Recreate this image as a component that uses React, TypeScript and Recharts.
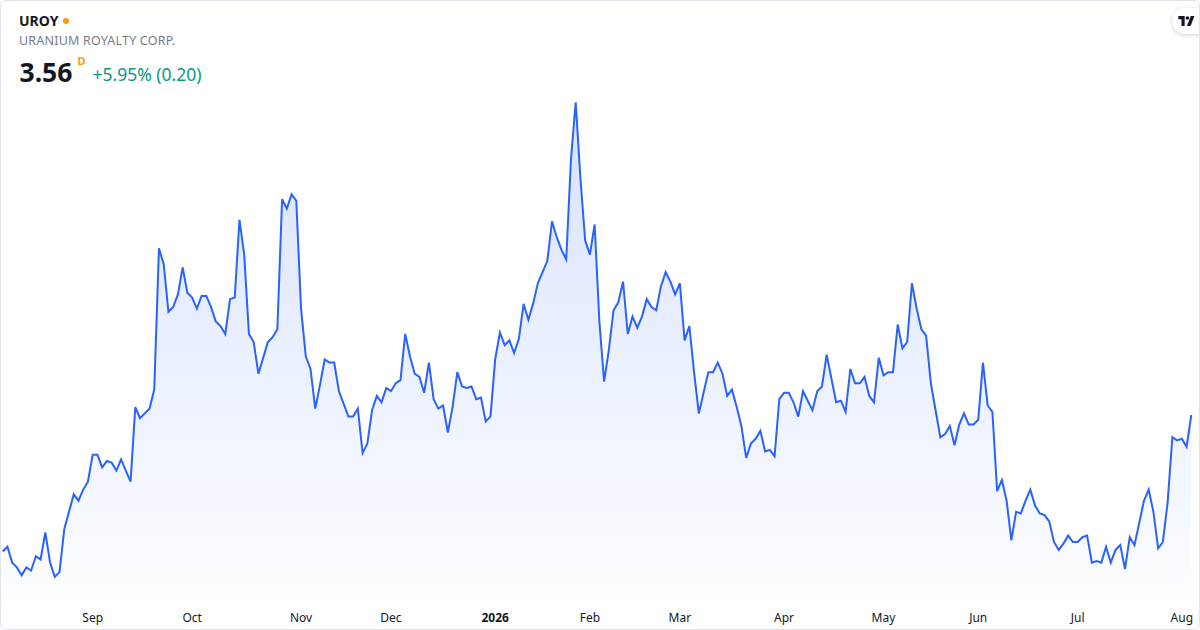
import React from "react";
import { AreaChart, Area, XAxis, YAxis } from "recharts";

const symbol = "UROY";
const companyName = "URANIUM ROYALTY CORP.";
const lastPrice = "3.56";
const changeText = "+5.95% (0.20)";

const startDate = "2025-08-05";
const holidays = [
  "2025-09-01", "2025-11-27", "2025-12-25", "2026-01-01", "2026-01-19",
  "2026-02-16", "2026-04-03", "2026-05-25", "2026-06-19", "2026-07-03",
];
const monthNames = ["2026", "Feb", "Mar", "Apr", "May", "Jun", "Jul", "Aug", "Sep", "Oct", "Nov", "Dec"];

const closes = [
  2.70, 2.73, 2.63, 2.60, 2.55, 2.60, 2.58, 2.67, 2.65, 2.82,
  2.63, 2.54, 2.57, 2.84, 2.95, 3.06, 3.02, 3.09, 3.14, 3.31,
  3.31, 3.23, 3.27, 3.26, 3.21, 3.28, 3.21, 3.14, 3.61, 3.54,
  3.57, 3.60, 3.72, 4.61, 4.51, 4.21, 4.24, 4.32, 4.49, 4.33,
  4.30, 4.23,
  4.31, 4.31, 4.24, 4.15, 4.12, 4.07, 4.29, 4.30, 4.79, 4.57,
  4.07, 4.02, 3.82, 3.92, 4.02, 4.05, 4.10, 4.92, 4.86, 4.95,
  4.91, 4.23, 3.93, 3.85, 3.60, 3.75, 3.91, 3.89, 3.89, 3.71,
  3.63, 3.55, 3.55, 3.60, 3.32, 3.38, 3.59, 3.68, 3.64, 3.73,
  3.71, 3.76, 3.78,
  4.07, 3.93, 3.82, 3.80, 3.70, 3.89, 3.66, 3.60, 3.62, 3.45,
  3.61, 3.83, 3.74, 3.73, 3.74, 3.66, 3.67, 3.52, 3.55, 3.91,
  4.08, 4.00, 4.03, 3.95, 4.04, 4.26, 4.16, 4.26, 4.39, 4.46,
  4.53, 4.78, 4.68, 4.60, 4.54, 5.17, 5.53, 5.05, 4.66, 4.57,
  4.76, 4.15, 3.77,
  3.97, 4.22, 4.27, 4.40, 4.07, 4.18, 4.11, 4.18, 4.29, 4.24,
  4.22, 4.37, 4.46, 4.40, 4.32, 4.39, 4.03, 4.12, 3.83, 3.57,
  3.70, 3.83, 3.83, 3.89, 3.82, 3.68, 3.72, 3.61, 3.49, 3.29,
  3.38, 3.41, 3.46, 3.33, 3.34, 3.30, 3.66, 3.70, 3.70, 3.64,
  3.55, 3.71,
  3.65, 3.59, 3.71, 3.74, 3.94, 3.79, 3.64, 3.65, 3.58, 3.85,
  3.76, 3.76, 3.80, 3.68, 3.64, 3.92, 3.81, 3.83, 3.83, 4.13,
  3.98, 4.02, 4.39, 4.23, 4.10, 4.06, 3.76, 3.59, 3.42, 3.44,
  3.49, 3.37, 3.50, 3.57, 3.50, 3.50, 3.53, 3.89, 3.62, 3.58,
  3.08, 3.15, 3.02, 2.77, 2.95, 2.94, 3.02, 3.09, 2.99, 2.94,
  2.93, 2.89, 2.76, 2.71, 2.75, 2.80, 2.76, 2.76, 2.79, 2.80,
  2.63, 2.64, 2.63, 2.73, 2.63, 2.71, 2.74, 2.59, 2.79, 2.74,
  2.88, 3.02, 3.09, 2.95, 2.72, 2.76, 3.01, 3.42, 3.40, 3.41,
  3.36, 3.56,
];

const yDomain = [2.3945, 6.1745];

// trading calendar (weekdays minus US market holidays)
function buildDates(count: number): string[] {
  const out: string[] = [];
  const d = new Date(startDate + "T00:00:00Z");
  while (out.length < count) {
    const iso = d.toISOString().slice(0, 10);
    const wd = d.getUTCDay();
    if (wd !== 0 && wd !== 6 && !holidays.includes(iso)) out.push(iso);
    d.setUTCDate(d.getUTCDate() + 1);
  }
  return out;
}

const dates = buildDates(closes.length);
const data = closes.map((c, i) => ({ i, date: dates[i], close: c }));

const monthTicks: number[] = [];
dates.forEach((iso, i) => {
  if (i > 0 && iso.slice(0, 7) !== dates[i - 1].slice(0, 7)) monthTicks.push(i);
});

const FONT = "'Noto Sans', 'Open Sans', Arial, sans-serif";

const MonthTick = (props: any) => {
  const { x, y, payload } = props;
  const m = parseInt(dates[payload.value].slice(5, 7), 10);
  const label = monthNames[m - 1];
  return (
    <text
      x={x}
      y={y + 14}
      textAnchor="middle"
      fontSize={12}
      fontFamily={FONT}
      fill="#131722"
      fontWeight={m === 1 ? 700 : 400}
    >
      {label}
    </text>
  );
};

export default function App() {
  return (
    <div
      style={{
        position: "fixed",
        left: 0,
        top: 0,
        width: 1200,
        height: 630,
        background: "#ffffff",
        boxSizing: "border-box",
        border: "1px solid #e0e3eb",
        borderRadius: 6,
        overflow: "hidden",
        fontFamily: FONT,
      }}
    >
      <div style={{ position: "absolute", left: -1, top: -1 }}>
        <AreaChart
          width={1200}
          height={630}
          data={data}
          margin={{ top: 0, right: 8.7, bottom: 0, left: 2.7 }}
        >
          <defs>
            <linearGradient id="uroyFill" x1="0" y1="0" x2="0" y2="1">
              <stop offset="0%" stopColor="#2962ff" stopOpacity={0.3} />
              <stop offset="100%" stopColor="#2962ff" stopOpacity={0.02} />
            </linearGradient>
          </defs>
          <XAxis
            dataKey="i"
            type="number"
            domain={[0, closes.length - 1]}
            ticks={monthTicks}
            interval={0}
            axisLine={false}
            tickLine={false}
            height={30}
            tick={<MonthTick />}
          />
          <YAxis hide domain={yDomain} allowDataOverflow />
          <Area
            type="linear"
            dataKey="close"
            stroke="#2962ff"
            strokeWidth={2}
            fill="url(#uroyFill)"
            isAnimationActive={false}
            dot={false}
            activeDot={false}
          />
        </AreaChart>
      </div>

      <div style={{ position: "absolute", left: 18, top: 11, fontSize: 14, fontWeight: 700, color: "#131722", lineHeight: "18px", display: "flex", alignItems: "center" }}>
        {symbol}
        <span style={{ display: "inline-block", width: 6, height: 6, borderRadius: 3, background: "#ff9800", marginLeft: 5 }} />
      </div>
      <div style={{ position: "absolute", left: 18, top: 31, fontSize: 12.5, color: "#787b86", lineHeight: "18px", letterSpacing: 0.2 }}>
        {companyName}
      </div>
      <div style={{ position: "absolute", left: 18.5, top: 53, display: "flex", alignItems: "flex-start" }}>
        <span style={{ fontSize: 26.5, fontWeight: 700, color: "#131722", lineHeight: "36px" }}>{lastPrice}</span>
        <span style={{ fontSize: 11, fontWeight: 700, color: "#ff9800", marginLeft: 5, marginTop: 1, lineHeight: "12px" }}>D</span>
        <span style={{ fontSize: 17.5, color: "#089981", marginLeft: 7, lineHeight: "40px" }}>{changeText}</span>
      </div>

      <div
        style={{
          position: "absolute",
          left: 1171,
          top: 7,
          width: 44,
          height: 26,
          borderRadius: 13,
          background: "#ffffff",
          boxShadow: "0 1px 4px rgba(0,0,0,0.18)",
        }}
      >
        <svg style={{ position: "absolute", left: 6, top: 8 }} width="17" height="10" viewBox="0 0 36 22">
          <path d="M14 22H7V7H0V0h14v22z" fill="#131722" />
          <circle cx="20" cy="4.5" r="4" fill="#131722" />
          <path d="M27 22h-8L27.5 0h8L27 22z" fill="#131722" />
        </svg>
      </div>
    </div>
  );
}
